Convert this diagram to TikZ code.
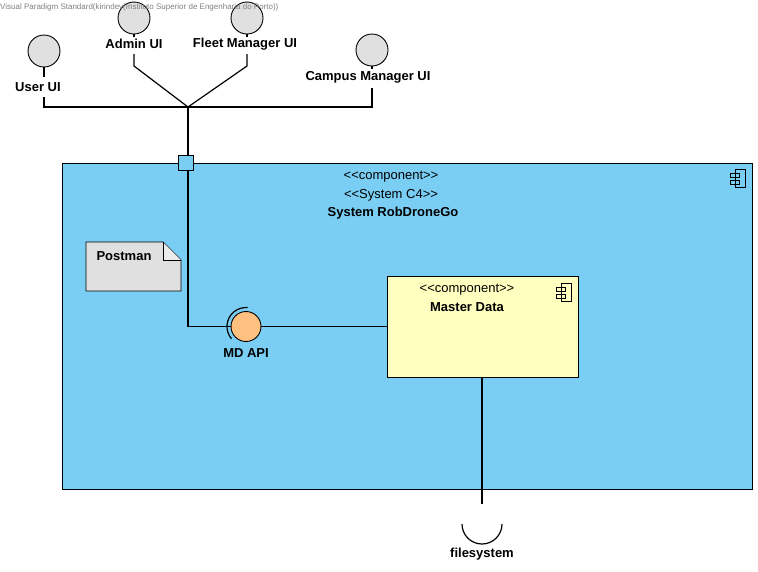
\documentclass[tikz,border=0pt]{standalone}
\usepackage{fontspec}
\setmainfont{Liberation Sans}[Ligatures=TeXOff]
\usetikzlibrary{positioning}

\definecolor{sysblue}{RGB}{122,206,244}
\definecolor{ifgray}{RGB}{224,224,224}
\definecolor{mdyellow}{RGB}{255,255,192}
\definecolor{apiorange}{RGB}{255,192,128}

\tikzset{
  wire/.style={line width=1.2pt},
  iface/.style={circle,draw,fill=ifgray,minimum size=32pt,inner sep=0pt,line width=0.9pt},
  lbl/.style={font=\fontsize{13}{15}\selectfont\bfseries,inner sep=1pt},
  stereo/.style={font=\fontsize{13}{15}\selectfont,inner sep=1pt},
}

% little component symbol, top right corner of a box
\newcommand{\compicon}[1]{%
  \begin{scope}[shift={#1},line width=0.9pt]
    \draw (0,0) rectangle (10,18);
    \draw (-5,4) rectangle (4,8);
    \draw (-5,11) rectangle (4,15);
  \end{scope}}

\begin{document}
\begin{tikzpicture}[x=1pt,y=-1pt]
  \useasboundingbox (0,0) rectangle (758,571);

  % system box
  \draw[fill=sysblue,line width=0.9pt] (62,163) rectangle (752,489);
  \compicon{(735,169)}
  \node[stereo] (sys1) at (391,177) {<<component>>};
  \node[stereo] (sys2) at (391,195) {<<System C4>>};
  \node[lbl] (sys3) at (393,213) {System RobDroneGo};

  % note
  \draw[fill=ifgray,line width=0.9pt] (86,242) -- (163,242) -- (181,260) -- (181,291) -- (86,291) -- cycle;
  \draw[fill=ifgray!60,line width=0.9pt] (163,242) -- (163,260) -- (181,260);
  \node[lbl] (postman) at (124,256) {Postman};

  % master data
  \node[draw,fill=mdyellow,line width=0.9pt,minimum width=191pt,minimum height=101pt,inner sep=0pt] (md) at (482.5,326.5) {};
  \compicon{(561,283)}
  \node[stereo] (md1) at (467,290) {<<component>>};
  \node[lbl] (md2) at (467,307) {Master Data};

  % provided interfaces
  \node[iface] (useri) at (44,51) {};
  \node[lbl] (userl) at (38,87) {User UI};
  \node[iface] (admini) at (134,18) {};
  \node[lbl] (adminl) at (134,44) {Admin UI};
  \node[iface] (fleeti) at (247,18) {};
  \node[lbl] (fleetl) at (245,44) {Fleet Manager UI};
  \node[iface] (campusi) at (372,50) {};
  \node[lbl] (campusl) at (368,77) {Campus Manager UI};

  \node[gray,font=\fontsize{8}{9}\selectfont,anchor=west,inner sep=0pt] (vp) at (0,7)
    {Visual Paradigm Standard(kirindev(Instituto Superior de Engenharia do Porto))};

  \coordinate (hub) at (188,107);
  \coordinate (bend) at (188,326.5);

  \draw[wire] (useri.south) -- (44,77);
  \draw[wire] (admini.south) -- (134,37);
  \draw[wire] (fleeti.south) -- (247,37);
  \draw[wire] (campusi.south) -- (372,69);

  \draw[wire] (44,97) -- (44,107) -- (372,107) -- (372,88);
  \draw[wire] (134,54) -- (134,66) -- (hub) -- (247,66) -- (247,54);

  % port and MD API
  \node[draw,fill=sysblue,line width=0.9pt,minimum size=15pt,inner sep=0pt] (port) at (186,163) {};
  \node[circle,draw,fill=apiorange,minimum size=30pt,inner sep=0pt,line width=0.9pt] (api) at (246,326.5) {};
  \node[lbl] (apil) at (246,353) {MD API};
  \draw[wire] (hub) -- (188,155.5);
  \draw[wire] (188,170.5) -- (bend) -- (api.west);
  \draw[wire] (api) ++(85:19pt) arc[start angle=85,end angle=220,radius=19pt];
  \draw[wire] (api.east) -- (md.west);

  % required interface
  \coordinate (sock) at (482,524);
  \draw[wire] (md.south -| sock) -- (482,504);
  \draw[wire] (sock) ++(20pt,0) arc[start angle=0,end angle=-180,radius=20pt];
  \node[lbl] (fsl) at (482,554) {filesystem};
\end{tikzpicture}
\end{document}
